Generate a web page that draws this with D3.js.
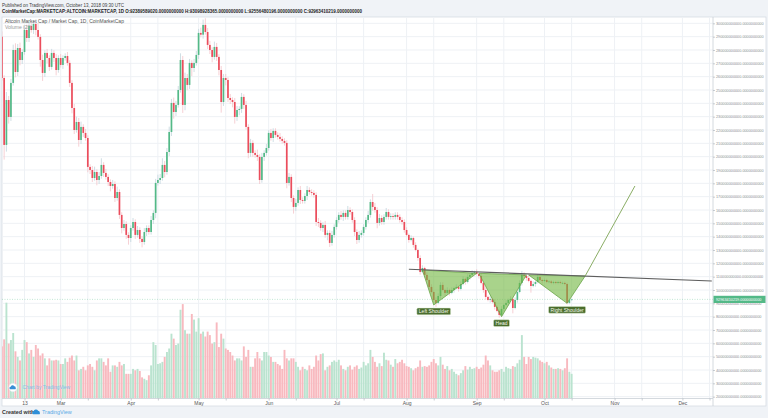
<!DOCTYPE html>
<meta charset="utf-8">
<style>

body, html{
    margin: 0;
    background: #f0f3f7;
}

svg {
  display: block;
  font-family: "Liberation Sans", Arial, sans-serif;
}

.grid line {
  stroke: #eef1f5;
  stroke-width: 1px;
}

.wick {
  stroke-width: 0.8px;
}

</style>
<svg width="768" height="418"></svg>
<script src="https://d3js.org/d3.v7.min.js"></script>
<script>

// daily closes, billions USD, Feb 3 .. Oct 13 2018 (open = previous close)
var startDay = '2018-02-03';
var firstOpen = 290;
var closes = [
  259, 208.8, 242.5, 229.8, 255.3, 280, 263.5, 281.5, 272.5, 278.5, 295, 289, 298, 295, 299.5, 295, 289.8, 272.5, 262.8, 277.8, 274, 267.3, 277.8, 274, 265, 274,
  268.8, 274, 275.5, 270.3, 255.3, 236.5, 220, 226, 212.5, 222.3, 217.8, 214, 192.3, 190, 184, 188.5, 182.5, 185.5, 193.8, 187.8, 184.8, 181, 178, 179.5, 169, 173.5, 156.3, 146.5, 149.5, 141.3, 139,
  146.5, 151, 141.3, 145, 138.3, 136, 143.5, 146.5, 143.5, 152.5, 157.8, 180.3, 182.5, 184, 193.8, 188.5, 203.5, 218.5, 240.3, 233.5, 238.8, 250, 272.5, 238.8, 259, 253.8, 270.3, 266.5, 270.3, 276.3,
  292.8, 291.5, 298.8, 293.5, 283.8, 280, 274.8, 282.3, 274.8, 265, 241, 259, 257.5, 244, 242.5, 241, 229.8, 235, 235.8, 244.8, 238.8, 222.3, 202.8, 210.3, 202.8, 201.3, 199.8, 182.5, 199.8, 202.8, 206.5,
  217.8, 214, 219.3, 216.3, 214.8, 213.3, 211.8, 210.3, 180.3, 184.8, 169, 162.3, 165.3, 175, 167.5, 166.8, 170.5, 175, 173.5, 172.8, 171.3, 151, 150.3, 146.5, 148.8, 141.3, 142.8, 135.3, 141.3, 147.3,
  152.5, 156.3, 154.8, 157.8, 154.8, 160, 158.5, 152.5, 143.5, 137.5, 141.3, 142.8, 147.3, 152.5, 156.3, 166, 162.3, 160, 150.3, 154, 151, 154.8, 158.5, 154.8, 155.5, 154.8, 156.3, 154.8, 152.5, 151, 145,
  141.3, 137.5, 139, 133.8, 130, 124, 113.5, 116.5, 111.3, 107.5, 102.3, 98.5, 92.5, 90.3, 95.5, 103.8, 100, 97.8, 100, 97.8, 100, 101.5, 102.3, 100.8, 104.5, 108.3, 106, 109.8, 111.3, 112.8, 113.5,
  112, 110.5, 105.3, 100, 94.8, 92.5, 93.3, 91, 87.3, 84.3, 81.3, 85.8, 88.8, 90.3, 92.5, 93.3, 86.5, 92.5, 98.5, 105.3, 111.3, 110.5, 109, 106.8, 103, 104.5, 106, 109.8, 107.5, 106.8,
  107.5, 106, 106.4, 105.3, 106, 105.3, 106, 105.3, 105.3, 104.5, 90.3, 92.4, 92.96
];

// wick length above / below the body, billions
var wickHi = [
  4, 2, 6, 3, 3, 4, 5, 3, 4, 2, 3, 4, 3, 2, 3, 2, 5, 2, 4, 2, 3, 2, 3, 2, 3, 2,
  3, 2, 2, 3, 2, 2, 3, 4, 3, 4, 2, 3, 2, 2, 3, 4, 2, 3, 5, 2, 3, 2, 2, 3, 2, 4, 2, 2, 3, 2, 2,
  2, 3, 2, 3, 2, 2, 3, 2, 2, 3, 2, 3, 4, 3, 5, 3, 3, 4, 3, 4, 3, 3, 5, 3, 4, 3, 3, 2, 3, 3,
  3, 4, 4, 5, 3, 3, 2, 4, 3, 2, 3, 3, 3, 2, 3, 2, 3, 3, 2, 3, 2, 3, 2, 3, 2, 2, 4, 2, 3, 2, 3,
  2, 3, 2, 2, 2, 3, 2, 2, 2, 3, 2, 2, 3, 2, 3, 2, 2, 3, 2, 2, 2, 2, 3, 2, 2, 3, 2, 2, 3, 2,
  2, 2, 3, 2, 2, 3, 2, 2, 2, 2, 3, 2, 2, 2, 3, 2, 6, 3, 2, 3, 2, 2, 3, 2, 2, 2, 2, 2, 2, 2, 2,
  2, 1, 2, 1, 2, 1, 2, 2, 1, 2, 1, 2, 1, 2, 2, 2, 2, 1, 2, 1, 2, 1, 2, 1, 2, 2, 1, 2, 1, 2, 1,
  2, 1, 2, 1, 2, 1, 2, 1, 2, 1, 1, 2, 1, 2, 1, 2, 1, 2, 1, 2, 3, 2, 1, 2, 1, 2, 1, 2, 1, 1,
  1, 1, 1, 1, 1, 1, 1, 1, 1, 1, 1, 1, 0.4
];
var wickLo = [
  2, 11, 5, 5, 3, 2, 4, 3, 4, 3, 2, 3, 3, 2, 3, 4, 2, 5, 6, 3, 4, 3, 2, 3, 4, 2,
  2, 3, 2, 2, 3, 4, 3, 2, 5, 3, 3, 2, 4, 3, 3, 2, 4, 3, 2, 3, 2, 3, 4, 2, 3, 2, 3, 4, 2, 3, 5,
  3, 2, 3, 2, 3, 4, 2, 3, 2, 2, 3, 4, 2, 3, 2, 4, 2, 3, 3, 5, 3, 2, 2, 6, 4, 4, 3, 6, 3, 2,
  3, 2, 3, 2, 3, 3, 4, 2, 3, 4, 8, 3, 4, 3, 3, 4, 5, 3, 4, 3, 3, 2, 4, 3, 3, 2, 3, 3, 2, 3, 2,
  2, 2, 3, 2, 2, 2, 2, 2, 4, 2, 3, 5, 3, 2, 3, 2, 2, 3, 2, 2, 2, 3, 3, 2, 3, 2, 4, 3, 2, 2,
  2, 2, 2, 3, 2, 2, 2, 2, 3, 3, 2, 2, 2, 2, 2, 2, 3, 2, 4, 2, 2, 2, 2, 2, 2, 2, 2, 2, 2, 2, 2,
  1, 2, 1, 2, 1, 2, 2, 1, 2, 1, 2, 1, 2, 3, 1, 2, 1, 2, 1, 2, 1, 2, 1, 2, 1, 1, 2, 1, 2, 1, 1,
  1, 2, 1, 2, 2, 1, 2, 1, 2, 1, 2, 1, 2, 1, 2, 1, 4, 1, 2, 1, 2, 1, 2, 1, 5, 1, 2, 1, 1, 2,
  1, 1, 1, 1, 1, 1, 1, 1, 1, 1, 1, 1, 0.4
];

// daily volume, billions
var volume = [
  7.4, 8.4, 13.6, 7.8, 8.3, 9.3, 6.7, 5.9, 5.4, 6.9, 8.3, 8.0, 6.4, 6.9, 5.9, 7.6, 7.1, 6.1, 6.4, 5.7, 4.7, 5.7, 5.4, 5.4, 5.5, 5.4, 4.9, 4.9, 5.7, 5.2,
  5.8, 6.1, 5.4, 6.1, 4.0, 4.2, 4.5, 4.0, 4.7, 4.9, 4.5, 4.0, 5.4, 5.7, 5.7, 5.2, 4.7, 5.7, 3.8, 4.7, 4.7, 4.5, 5.2, 4.7, 4.9, 3.5, 3.5, 3.5, 4.2, 4.0, 4.2,
  3.9, 3.0, 2.8, 2.6, 3.3, 4.7, 8.0, 7.6, 4.9, 5.0, 5.2, 5.9, 6.6, 7.1, 9.2, 8.5, 7.6, 7.8, 12.6, 13.4, 9.7, 9.2, 9.2, 12.0, 11.2, 9.5, 11.4, 9.2, 9.5, 8.8, 9.5,
  9.0, 7.8, 8.0, 10.8, 7.3, 9.2, 8.5, 7.1, 6.9, 6.6, 6.1, 5.4, 5.7, 5.7, 5.4, 7.4, 5.9, 6.9, 4.5, 4.5, 5.7, 6.6, 5.7, 5.4, 6.6, 6.6, 6.1, 5.9, 5.2, 5.2, 4.9, 4.7, 4.2, 6.9, 5.7, 5.4, 5.7, 5.7,
  5.2, 4.5, 4.0, 4.5, 4.2, 4.0, 4.7, 4.2, 4.5, 6.1, 5.4, 6.3, 6.4, 4.0, 4.5, 4.7, 5.2, 5.4,
  5.2, 5.5, 4.7, 4.2, 4.0, 4.5, 4.7, 4.1, 4.5, 4.7, 4.2, 4.4, 5.2, 4.7, 5.0, 6.9, 5.9, 5.2, 4.5, 5.0, 4.6, 6.5, 5.5, 5.4, 4.8, 4.5, 5.6, 5.0, 5.2, 5.5, 5.0,
  4.6, 4.5, 4.3, 4.0, 4.3, 4.5, 5.4, 4.5, 4.6, 4.5, 4.7, 5.2, 5.6, 5.0, 4.7, 5.9, 4.8, 4.2, 4.6, 4.0, 4.2, 3.8, 3.5, 3.3, 3.6, 4.0, 4.6, 4.1, 4.5, 4.2, 4.3,
  4.5, 4.2, 4.4, 4.8, 6.1, 5.4, 4.7, 4.0, 3.8, 3.8, 4.0, 4.2, 3.8, 4.5, 4.3, 4.2, 4.6, 4.5, 5.0, 5.5, 9.0, 5.9, 4.9, 5.9, 5.6, 5.9, 5.8, 5.7, 5.4, 5.2,
  5.0, 5.2, 4.7, 4.4, 4.2, 4.2, 4.3, 4.2, 4.0, 4.3, 5.7, 3.8, 3.5
];

var lastBar = [92389589020, 93098928365, 92556480196, 92963410219]; // O H L C

var priceTicks = [20, 30, 40, 50, 60, 70, 80, 90, 100, 110, 120, 130, 140, 150, 160, 170, 180, 190, 200,
  210, 220, 230, 240, 250, 260, 270, 280, 290, 300];
var timeLabels = [['2018-02-13', '13'], ['2018-03-01', 'Mar'], ['2018-04-01', 'Apr'], ['2018-05-01', 'May'],
  ['2018-06-01', 'Jun'], ['2018-07-01', 'Jul'], ['2018-08-01', 'Aug'], ['2018-09-01', 'Sep'],
  ['2018-10-01', 'Oct'], ['2018-11-01', 'Nov'], ['2018-12-01', 'Dec']];
var midTicks = ['2018-03-13', '2018-04-13', '2018-05-13', '2018-06-13', '2018-07-13', '2018-08-13',
  '2018-09-13', '2018-10-13', '2018-11-13', '2018-12-13'];

// inverse head & shoulders drawing (date, billions)
var neckline = [['2018-08-02', 115.6], ['2018-12-14', 106.7]];
var leftShoulder = [['2018-08-08', 115], ['2018-08-13', 88.8], ['2018-09-01', 112.5]];
var headPts = [['2018-09-02', 112.5], ['2018-09-12', 80], ['2018-09-23', 111.3]];
var rightShoulder = [['2018-09-24', 111.3], ['2018-10-11', 90], ['2018-10-19', 110.5]];
var targetLine = [['2018-10-19', 110.5], ['2018-11-10', 178]];
var patternNames = ['Left Shoulder', 'Head', 'Right Shoulder'];

var upColor = '#53b987', downColor = '#eb4d5c';

var parse = d3.utcParse('%Y-%m-%d');

var plotLeft = 2, plotRight = 713, paneTop = 17, plotBottom = 398.5, paneBottom = 406, paneRight = 766;

var x = d3.scaleUtc().domain([parse('2018-02-13'), parse('2018-12-01')]).range([24.5, 682.4]);
var y = d3.scaleLinear().domain([20, 300]).range([396.67, 23.33]);
var yv = d3.scaleLinear().domain([0, d3.max(volume)]).range([398.5, 302.7]);

var t0 = parse(startDay);
var candles = closes.map(function (c, i) {
  var o = i ? closes[i - 1] : firstOpen;
  return {
    date: d3.utcDay.offset(t0, i), o: o, c: c,
    h: Math.max(o, c) + wickHi[i], l: Math.min(o, c) - wickLo[i], v: volume[i]
  };
});

var svg = d3.select('svg');

// pane
svg.append('rect')
  .attr('x', plotLeft).attr('y', paneTop)
  .attr('width', paneRight - plotLeft).attr('height', paneBottom - paneTop)
  .attr('fill', '#fff').attr('stroke', '#d6dce3').attr('stroke-width', 0.8);

svg.append('defs').append('clipPath').attr('id', 'plot')
  .append('rect').attr('x', plotLeft).attr('y', paneTop)
  .attr('width', plotRight - plotLeft).attr('height', plotBottom - paneTop);

var grid = svg.append('g').attr('class', 'grid');
grid.selectAll('.h').data(priceTicks).enter().append('line')
  .attr('x1', plotLeft).attr('x2', plotRight)
  .attr('y1', function (d) { return y(d); }).attr('y2', function (d) { return y(d); });
grid.selectAll('.v').data(timeLabels.map(function (d) { return d[0]; }).concat(midTicks)).enter().append('line')
  .attr('x1', function (d) { return x(parse(d)); }).attr('x2', function (d) { return x(parse(d)); })
  .attr('y1', paneTop).attr('y2', plotBottom);

var plot = svg.append('g').attr('clip-path', 'url(#plot)');

// volume
plot.append('g').selectAll('rect').data(candles).enter().append('rect')
  .attr('x', function (d) { return x(d.date) - 0.95; })
  .attr('width', 1.9)
  .attr('y', function (d) { return yv(d.v); })
  .attr('height', function (d) { return yv(0) - yv(d.v); })
  .attr('fill', function (d) { return d.c >= d.o ? '#bae3cf' : '#f8b9bf'; });

// last price line
plot.append('line')
  .attr('x1', plotLeft).attr('x2', plotRight)
  .attr('y1', y(closes[closes.length - 1])).attr('y2', y(closes[closes.length - 1]))
  .attr('stroke', upColor).attr('stroke-opacity', 0.5).attr('stroke-width', 0.7)
  .attr('stroke-dasharray', '1,1.5');

// candles
plot.append('g').selectAll('line').data(candles).enter().append('line')
  .attr('class', 'wick')
  .attr('x1', function (d) { return x(d.date); }).attr('x2', function (d) { return x(d.date); })
  .attr('y1', function (d) { return y(d.h); }).attr('y2', function (d) { return y(d.l); })
  .attr('stroke', function (d) { return d.c >= d.o ? '#c3d6dd' : '#f4c4c9'; });

plot.append('g').selectAll('rect').data(candles).enter().append('rect')
  .attr('x', function (d) { return x(d.date) - 0.85; })
  .attr('width', 1.7)
  .attr('y', function (d) { return y(Math.max(d.o, d.c)); })
  .attr('height', function (d) { return Math.max(0.7, Math.abs(y(d.o) - y(d.c))); })
  .attr('fill', function (d) { return d.c >= d.o ? upColor : downColor; });

// pattern
function pt(p) { return [x(parse(p[0])), y(p[1])]; }

var pattern = svg.append('g');
[leftShoulder, headPts, rightShoulder].forEach(function (tri) {
  pattern.append('path')
    .attr('d', d3.line()(tri.map(pt)) + 'Z')
    .attr('fill', 'rgba(112,182,62,0.6)')
    .attr('stroke', '#6aa548').attr('stroke-width', 0.8);
});

pattern.append('path')
  .attr('d', d3.line()(neckline.map(pt)))
  .attr('stroke', '#5e5e5e').attr('stroke-width', 1.1).attr('fill', 'none');

pattern.append('path')
  .attr('d', d3.line()(targetLine.map(pt)))
  .attr('stroke', '#7da453').attr('stroke-width', 0.9).attr('fill', 'none');

[leftShoulder, headPts, rightShoulder].forEach(function (tri, i) {
  var p = pt(tri[1]);
  var g = pattern.append('g').attr('transform', 'translate(' + p[0] + ',' + (p[1] + 6.5) + ')');
  var r = g.append('rect');
  var t = g.append('text')
    .attr('text-anchor', 'middle').attr('dy', '0.35em')
    .attr('font-size', 5).attr('fill', '#f3f8ec')
    .text(patternNames[i]);
  var w = t.node().getComputedTextLength() + 4;
  r.attr('x', -w / 2).attr('y', -3.4).attr('width', w).attr('height', 6.8)
    .attr('rx', 1.2).attr('fill', '#4b6d2d').attr('stroke', '#dfeed4').attr('stroke-width', 0.5);
});

// axes borders
svg.append('line').attr('x1', plotRight).attr('x2', plotRight)
  .attr('y1', paneTop).attr('y2', paneBottom).attr('stroke', '#c9cfd6').attr('stroke-width', 0.8);
svg.append('line').attr('x1', plotLeft).attr('x2', plotRight)
  .attr('y1', plotBottom).attr('y2', plotBottom).attr('stroke', '#c9cfd6').attr('stroke-width', 0.8);

// price axis
var yAxis = d3.axisRight(y).tickValues(priceTicks).tickSize(2).tickSizeOuter(0).tickPadding(1)
  .tickFormat(function (v) { return (v * 1e9).toFixed(10); });
var ya = svg.append('g').attr('transform', 'translate(' + plotRight + ',0)').call(yAxis);
ya.select('.domain').remove();
ya.selectAll('line').attr('stroke', '#a6adb5').attr('stroke-width', 0.6);
ya.selectAll('text')
  .attr('font-size', 3.8).attr('fill', '#8b8f94')
  .attr('font-family', '"Liberation Sans", Arial, sans-serif');

// current price tag
var lastY = y(closes[closes.length - 1]);
svg.append('rect').attr('x', plotRight + 0.5).attr('y', lastY - 3.6)
  .attr('width', paneRight - plotRight - 1).attr('height', 7.2).attr('fill', upColor);
svg.append('text').attr('x', plotRight + 3).attr('y', lastY).attr('dy', '0.35em')
  .attr('font-size', 3.8).attr('fill', '#fff')
  .text(lastBar[3].toFixed(10));

// time axis
var labelOf = {};
timeLabels.forEach(function (d) { labelOf[d[0]] = d[1]; });
var tickDates = timeLabels.map(function (d) { return d[0]; }).concat(midTicks);
var xAxis = d3.axisBottom(x)
  .tickValues(tickDates.map(parse))
  .tickSize(2).tickSizeOuter(0).tickPadding(1)
  .tickFormat(function (d) { return labelOf[d3.utcFormat('%Y-%m-%d')(d)] || ''; });
var xa = svg.append('g').attr('transform', 'translate(0,' + plotBottom + ')').call(xAxis);
xa.select('.domain').remove();
xa.selectAll('line').attr('stroke', '#a6adb5').attr('stroke-width', 0.6);
xa.selectAll('text').attr('font-size', 5).attr('fill', '#555')
  .attr('font-family', '"Liberation Sans", Arial, sans-serif');

// legend inside pane
svg.append('text').attr('x', 5).attr('y', 23.3)
  .attr('font-size', 5).attr('fill', '#555')
  .text('Altcoin Market Cap / Market Cap, 1D, CoinMarketCap');
svg.append('text').attr('x', 5).attr('y', 29.2)
  .attr('font-size', 5).attr('fill', '#999')
  .text('Volume (20)');

// header
svg.append('text').attr('x', 2).attr('y', 6.6)
  .attr('font-size', 5.2).attr('fill', '#3b3b3b')
  .attr('textLength', 122).attr('lengthAdjust', 'spacingAndGlyphs')
  .text('Published on TradingView.com, October 13, 2018 09:30 UTC');
svg.append('text').attr('x', 2).attr('y', 12.6)
  .attr('font-size', 5).attr('font-weight', 'bold').attr('fill', '#222')
  .attr('textLength', 360).attr('lengthAdjust', 'spacingAndGlyphs')
  .text('CoinMarketCap:MARKETCAP:ALTCOIN:MARKETCAP, 1D  O:' + lastBar[0].toFixed(10) +
    '  H:' + lastBar[1].toFixed(10) + '  L:' + lastBar[2].toFixed(10) + '  C:' + lastBar[3].toFixed(10));

// cloud logo
function cloud(g, cx, cy, s, color) {
  g.append('path')
    .attr('transform', 'translate(' + cx + ',' + cy + ') scale(' + s + ')')
    .attr('d', 'M-3.2,1.6 A1.5,1.5 0 0 1 -2.6,-1.2 A2.1,2.1 0 0 1 1.4,-1.6 A1.6,1.6 0 0 1 3,0 A1.4,1.4 0 0 1 2.8,1.6 Z')
    .attr('fill', color);
}

// watermark
var wm = svg.append('g');
wm.append('circle').attr('cx', 13).attr('cy', 387.5).attr('r', 4.2)
  .attr('fill', '#fff').attr('stroke', '#dfe6ee').attr('stroke-width', 0.5);
cloud(wm, 13, 387.8, 0.9, '#3a8fd6');
wm.append('text').attr('x', 22.5).attr('y', 389.3)
  .attr('font-size', 5).attr('fill', '#86bde9')
  .text('Chart by TradingView');

// footer
svg.append('text').attr('x', 2).attr('y', 414.3)
  .attr('font-size', 5.4).attr('font-weight', 'bold').attr('fill', '#333')
  .text('Created with');
cloud(svg, 36.5, 412.6, 1.1, '#2f8fd8');
svg.append('text').attr('x', 42).attr('y', 414.3)
  .attr('font-size', 5.4).attr('fill', '#57a9e6')
  .text('TradingView');

</script>
